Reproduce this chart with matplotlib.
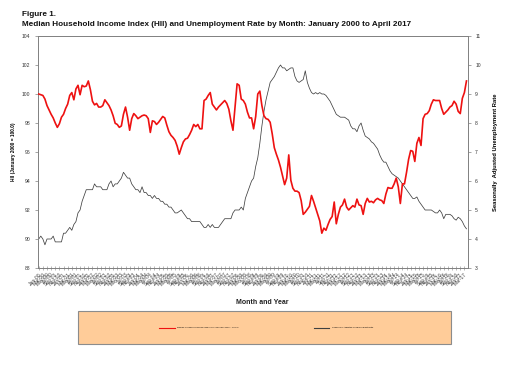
import matplotlib
matplotlib.use("Agg")
import matplotlib.pyplot as plt
from matplotlib.patches import Rectangle
from matplotlib.lines import Line2D
import numpy as np

plt.rcParams['font.family'] = ['Liberation Sans', 'DejaVu Sans']

# Median Household Income Index (HII), Jan 2000 = 100.0, monthly Jan 2000 - Apr 2017
hii = [
    100.0, 99.95, 99.9, 99.65, 99.2, 98.9, 98.6, 98.35, 98.0, 97.7, 97.95, 98.4,      # 2000
    98.6, 99.0, 99.3, 99.9, 100.1, 99.6, 100.35, 100.6, 99.95, 100.6, 100.5, 100.55,  # 2001
    100.9, 100.3, 99.5, 99.25, 99.35, 99.1, 99.1, 99.2, 99.6, 99.4, 99.2, 98.9,       # 2002
    98.5, 97.98, 97.9, 97.7, 97.8, 98.6, 99.1, 98.4, 97.5, 98.3, 98.65, 98.5,         # 2003
    98.3, 98.4, 98.5, 98.55, 98.5, 98.3, 97.35, 98.15, 98.1, 97.9, 98.05, 98.25,      # 2004
    98.45, 98.35, 97.85, 97.4, 97.15, 97.0, 96.8, 96.4, 95.85, 96.3, 96.7, 96.9,      # 2005
    96.95, 97.2, 97.5, 97.9, 97.75, 97.9, 97.6, 97.6, 99.55, 99.65, 99.9, 100.1,      # 2006
    99.3, 99.1, 98.9, 99.1, 99.25, 99.4, 99.55, 99.35, 98.95, 98.15, 97.5, 99.1,      # 2007
    100.7, 100.6, 99.65, 99.55, 99.3, 98.75, 98.35, 98.35, 97.6, 98.45, 100.0, 100.2, # 2008
    99.2, 98.5, 98.3, 98.25, 98.05, 97.25, 96.3, 95.85, 95.45, 94.95, 94.35, 93.75,   # 2009
    94.2, 95.8, 94.05, 93.5, 93.3, 93.3, 93.2, 92.65, 91.7, 91.85, 92.05, 92.25,      # 2010
    93.0, 92.6, 92.15, 91.7, 91.25, 90.4, 90.75, 90.6, 91.0, 91.35, 91.55, 92.55,     # 2011
    91.05, 91.7, 92.2, 92.35, 92.75, 92.2, 92.0, 92.15, 92.3, 92.2, 92.75, 92.35,     # 2012
    92.3, 91.7, 92.45, 92.8, 92.55, 92.6, 92.5, 92.7, 92.8, 92.7, 92.65, 92.45,       # 2013
    93.1, 93.55, 93.5, 93.5, 93.8, 94.2, 93.6, 92.45, 93.8, 93.8, 94.6, 95.5,         # 2014
    96.1, 96.05, 95.35, 96.6, 97.0, 96.45, 98.3, 98.6, 98.65, 98.85, 99.3, 99.6,      # 2015
    99.55, 99.55, 99.55, 99.0, 98.6, 98.75, 98.9, 99.1, 99.2, 99.5, 99.3, 98.8,       # 2016
    98.65, 99.7, 100.1, 100.9,                                                        # 2017
]

# Seasonally adjusted unemployment rate (%)
unemp = [
    4.0, 4.1, 4.0, 3.8, 4.0, 4.0, 4.0, 4.1, 3.9, 3.9, 3.9, 3.9,
    4.2, 4.2, 4.3, 4.4, 4.3, 4.5, 4.6, 4.9, 5.0, 5.3, 5.5, 5.7,
    5.7, 5.7, 5.7, 5.9, 5.8, 5.8, 5.8, 5.7, 5.7, 5.7, 5.9, 6.0,
    5.8, 5.9, 5.9, 6.0, 6.1, 6.3, 6.2, 6.1, 6.1, 5.9, 5.8, 5.7,
    5.7, 5.6, 5.8, 5.6, 5.6, 5.5, 5.5, 5.4, 5.5, 5.4, 5.4, 5.3,
    5.3, 5.2, 5.2, 5.1, 5.1, 5.0, 4.9, 4.9, 4.95, 5.0, 4.9, 4.8,
    4.7, 4.7, 4.6, 4.6, 4.6, 4.6, 4.6, 4.5, 4.4, 4.4, 4.5, 4.4,
    4.5, 4.4, 4.4, 4.4, 4.5, 4.6, 4.7, 4.7, 4.7, 4.7, 4.9, 5.0,
    5.0, 5.0, 5.1, 5.0, 5.4, 5.6, 5.8, 6.0, 6.1, 6.5, 6.8, 7.3,
    7.9, 8.4, 8.8, 9.1, 9.4, 9.5, 9.6, 9.75, 9.9, 10.0, 9.9, 9.9,
    9.8, 9.85, 9.9, 9.9, 9.6, 9.45, 9.4, 9.45, 9.5, 9.8, 9.4, 9.2,
    9.05, 9.0, 9.05, 9.0, 9.05, 9.0, 9.0, 8.95, 8.85, 8.75, 8.6, 8.45,
    8.3, 8.25, 8.2, 8.2, 8.2, 8.15, 8.1, 7.9, 7.8, 7.8, 7.7, 7.9,
    8.0, 7.75, 7.55, 7.5, 7.45, 7.35, 7.3, 7.2, 7.1, 6.9, 6.75, 6.65,
    6.65, 6.5, 6.35, 6.25, 6.2, 6.15, 6.1, 6.0, 5.9, 5.8, 5.7, 5.6,
    5.5, 5.4, 5.4, 5.45, 5.3, 5.2, 5.1, 5.0, 5.0, 5.0, 5.0, 4.95,
    4.9, 4.9, 5.0, 4.9, 4.7, 4.85, 4.85, 4.85, 4.8, 4.7, 4.65, 4.75,
    4.7, 4.6, 4.45, 4.35,
]

month_names = ['Jan', 'Feb', 'Mar', 'Apr', 'May', 'Jun',
               'Jul', 'Aug', 'Sep', 'Oct', 'Nov', 'Dec']
months = [f"{month_names[i % 12]}-{(i // 12):02d}" for i in range(len(hii))]

hii_label = 'Median Household Income Index (HII) (January 2000 = 100.0)'
unemp_label = 'Seasonally Adjusted Unemployment Rate'

W, H = 512, 372
fig = plt.figure(figsize=(W / 100, H / 100), dpi=100)
ax = fig.add_axes([37.7 / W, 1 - 268 / H, (467.5 - 37.7) / W, (268 - 36) / H])
ax2 = ax.twinx()

x = np.arange(len(hii))
ax.plot(x, hii, color='#ee1111', lw=1.2, zorder=3)
ax2.plot(x, unemp, color='#404040', lw=0.55, zorder=2)

ax.set_zorder(ax2.get_zorder() + 1)
ax.patch.set_visible(False)

ax.set_xlim(-0.5, len(hii) - 0.5)
ax.set_ylim(88, 104)
ax.set_yticks(np.arange(88, 105, 2))
ax2.set_ylim(3, 11)
ax2.set_yticks(np.arange(3, 12, 1))

ax.set_xticks(x[::2])
ax.set_xticklabels(months[::2], rotation=45, ha='right', rotation_mode='anchor',
                   fontsize=3.6, color='#444444')

for a in (ax, ax2):
    for s in a.spines.values():
        s.set_color('#808080')
        s.set_linewidth(0.6)
ax.tick_params(axis='y', labelsize=3.6, colors='#808080', labelcolor='#333333',
               length=2.5, width=0.5, pad=3)
ax2.tick_params(axis='y', labelsize=3.6, colors='#808080', labelcolor='#333333',
                length=2.5, width=0.5, pad=3)
ax.tick_params(axis='x', direction='inout', length=2.5, width=0.4,
               colors='#808080', labelcolor='#444444', pad=1.5)

ax.set_ylabel('HII (January 2000 = 100.0)', fontsize=3.4, fontweight='bold', labelpad=4)
ax2.set_ylabel('Seasonally  Adjusted Unemployment Rate', fontsize=4.2,
               fontweight='bold', labelpad=9)

fig.text(22 / W, 1 - 15 / H, 'Figure 1.', fontsize=5.85, fontweight='bold',
         va='center', ha='left', color='#111111')
fig.text(22 / W, 1 - 24 / H,
         'Median Household Income Index (HII) and Unemployment Rate by Month: January 2000 to April 2017',
         fontsize=5.85, fontweight='bold', va='center', ha='left', color='#111111')

fig.text(262 / W, 1 - 302 / H, 'Month and Year', fontsize=5.0, fontweight='bold',
         ha='center', va='center', color='#222222')

# Legend box
fig.patches.append(Rectangle((78 / W, 1 - 344 / H), (451 - 78) / W, (344 - 311) / H,
                             transform=fig.transFigure, facecolor='#FFCC99',
                             edgecolor='#8c8c8c', linewidth=0.8, zorder=0))
handles = [Line2D([], [], color='#ee1111', lw=0.8), Line2D([], [], color='#404040', lw=0.8)]
fig.legend(handles, [hii_label, unemp_label], loc='center', ncol=2,
           bbox_to_anchor=(266 / W, 1 - 327.5 / H), frameon=False, fontsize=1.6,
           handlelength=7, columnspacing=34, handletextpad=1)

fig.savefig('out.png', dpi=100)
